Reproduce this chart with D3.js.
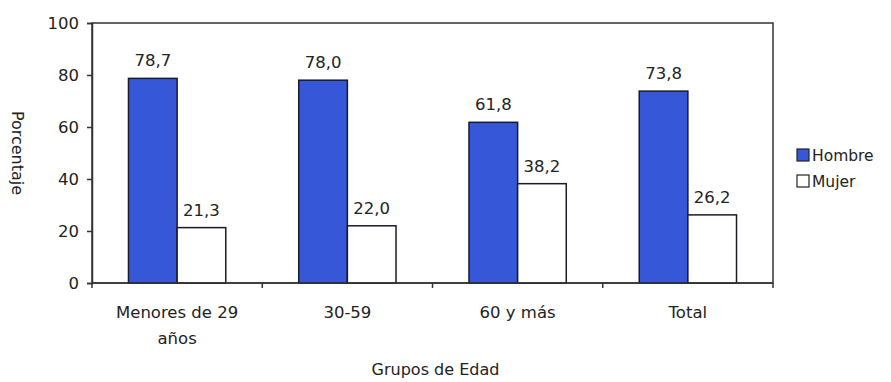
<!DOCTYPE html>
<html>
<head>
<meta charset="utf-8">
<script src="https://cdn.jsdelivr.net/npm/d3@7"></script>
<style>
  body { margin: 0; background: #fff; }
  svg text { font-family: "DejaVu Sans", Verdana, sans-serif; fill: #222; }
</style>
</head>
<body>
<svg id="chart" width="891" height="382"></svg>
<script>
// Age groups and share of men / women in each
const categories = ["Menores de 29\naños", "30-59", "60 y más", "Total"];
const hombre = [78.7, 78.0, 61.8, 73.8];
const mujer = [21.3, 22.0, 38.2, 26.2];
const seriesNames = ["Hombre", "Mujer"];
const yTicks = [0, 20, 40, 60, 80, 100];

const fmt = v => v.toFixed(1).replace(".", ",");

const svg = d3.select("#chart");
const margin = { left: 92, right: 118, top: 23, bottom: 99 };
const W = 891, H = 382;
const iw = W - margin.left - margin.right;
const ih = H - margin.top - margin.bottom;

const g = svg.append("g").attr("transform", `translate(${margin.left},${margin.top})`);

const x = d3.scaleBand().domain(categories).range([0, iw]).paddingInner(0).paddingOuter(0);
const x1 = d3.scaleBand().domain(seriesNames).range([0, x.bandwidth()]).paddingInner(0).paddingOuter(0.75);
const y = d3.scaleLinear().domain([0, 100]).range([ih, 0]);

const colors = { Hombre: "#3658d8", Mujer: "#ffffff" };

// plot frame
g.append("rect").attr("x", 0).attr("y", 0).attr("width", iw).attr("height", ih)
  .attr("fill", "none").attr("stroke", "#333").attr("stroke-width", 1.5);

const data = categories.map((c, i) => ({ cat: c, values: [
  { key: "Hombre", v: hombre[i] }, { key: "Mujer", v: mujer[i] }] }));

const groups = g.selectAll(".grp").data(data).join("g")
  .attr("transform", d => `translate(${x(d.cat)},0)`);

groups.selectAll("rect").data(d => d.values).join("rect")
  .attr("x", d => x1(d.key))
  .attr("y", d => y(d.v))
  .attr("width", x1.bandwidth())
  .attr("height", d => y(0) - y(d.v))
  .attr("fill", d => colors[d.key])
  .attr("stroke", "#1a1a2a").attr("stroke-width", 1.5);

groups.selectAll("text.val").data(d => d.values).join("text")
  .attr("class", "val")
  .attr("x", d => x1(d.key) + x1.bandwidth() / 2)
  .attr("y", d => y(d.v) - 12)
  .attr("text-anchor", "middle")
  .attr("font-size", 16.5)
  .text(d => fmt(d.v));

// y axis
const yAxis = g.append("g").call(d3.axisLeft(y).tickValues(yTicks).tickSize(5).tickPadding(8));
yAxis.select(".domain").attr("stroke", "#333").attr("stroke-width", 1.5);
yAxis.selectAll(".tick line").attr("stroke", "#333").attr("stroke-width", 1.5);
yAxis.selectAll("text").attr("font-size", 16.5).attr("fill", "#222");

// x axis with ticks at band boundaries
const xAxis = g.append("g").attr("transform", `translate(0,${ih})`);
xAxis.append("line").attr("x1", 0).attr("x2", iw).attr("stroke", "#333").attr("stroke-width", 1.5);
const bounds = categories.map(c => x(c)).concat([iw]);
xAxis.selectAll("line.tk").data(bounds).join("line").attr("class", "tk")
  .attr("x1", d => d).attr("x2", d => d).attr("y1", 0).attr("y2", 5)
  .attr("stroke", "#333").attr("stroke-width", 1.5);
const xl = xAxis.selectAll("text").data(categories).join("text")
  .attr("x", d => x(d) + x.bandwidth() / 2)
  .attr("y", 35)
  .attr("text-anchor", "middle")
  .attr("font-size", 16.5);
xl.each(function(d) {
  const lines = d.split("\n");
  d3.select(this).selectAll("tspan").data(lines).join("tspan")
    .attr("x", x(d) + x.bandwidth() / 2)
    .attr("dy", (l, i) => i === 0 ? 0 : 26)
    .text(l => l);
});

// axis titles
svg.append("text")
  .attr("transform", `translate(12,${margin.top + ih / 2}) rotate(90)`)
  .attr("text-anchor", "middle").attr("font-size", 16)
  .text("Porcentaje");
svg.append("text")
  .attr("x", margin.left + iw / 2 + 3).attr("y", 375)
  .attr("text-anchor", "middle").attr("font-size", 16)
  .text("Grupos de Edad");

// legend
const lg = svg.append("g").attr("transform", "translate(797,149)");
seriesNames.forEach((s, i) => {
  const row = lg.append("g").attr("transform", `translate(0,${i * 26})`);
  row.append("rect").attr("x", 0).attr("y", 0).attr("width", 12).attr("height", 12)
    .attr("fill", colors[s]).attr("stroke", "#222").attr("stroke-width", 1.2);
  row.append("text").attr("x", 15).attr("y", 12).attr("font-size", 15.5).text(s);
});
</script>
</body>
</html>
